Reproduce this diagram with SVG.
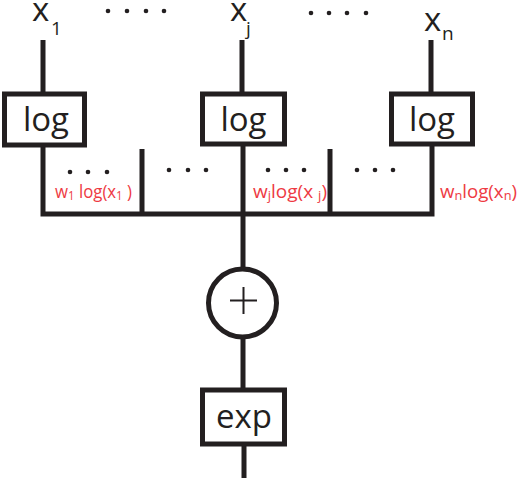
<svg xmlns="http://www.w3.org/2000/svg" width="518" height="478" viewBox="0 0 518 478">
<style>
.ln{stroke:#231f20;stroke-width:5;fill:none}
.bx{stroke:#231f20;stroke-width:5;fill:#fff}
.t{font-family:"Open Sans","Liberation Sans",sans-serif;fill:#231f20}
.big{font-size:33px}
.sub{font-size:19px}
.r{font-family:"Open Sans","Liberation Sans",sans-serif;fill:#ee3a43;font-size:19px}
.rs{font-size:13px}
.dot{fill:#231f20}
</style>
<g id="connectors">
<path class="ln" d="M43 40V94M242 40V94M431 40V94"/>
<path class="ln" d="M43 146V214H432V146M142 149V214M330 149V214M243 146V268M243 338V390M244 444V478"/>
</g>
<g id="dots">
<circle class="dot" cx="108" cy="11" r="2.3"/><circle class="dot" cx="127" cy="11" r="2.3"/><circle class="dot" cx="146" cy="11" r="2.3"/><circle class="dot" cx="164" cy="11" r="2.3"/>
<circle class="dot" cx="311" cy="13" r="2.3"/><circle class="dot" cx="329" cy="13" r="2.3"/><circle class="dot" cx="347" cy="13" r="2.3"/><circle class="dot" cx="366" cy="13" r="2.3"/>
<circle class="dot" cx="70" cy="172" r="2.3"/><circle class="dot" cx="88" cy="172" r="2.3"/><circle class="dot" cx="107" cy="172" r="2.3"/>
<circle class="dot" cx="169" cy="170" r="2.3"/><circle class="dot" cx="188" cy="170" r="2.3"/><circle class="dot" cx="206" cy="170" r="2.3"/>
<circle class="dot" cx="268" cy="170" r="2.3"/><circle class="dot" cx="286" cy="170" r="2.3"/><circle class="dot" cx="304" cy="170" r="2.3"/>
<circle class="dot" cx="357" cy="170" r="2.3"/><circle class="dot" cx="375" cy="170" r="2.3"/><circle class="dot" cx="393" cy="170" r="2.3"/>
</g>
<g id="x1"><text class="t big" x="32" y="21">x</text><text class="t sub" x="51" y="35">1</text></g>
<g id="xj"><text class="t big" x="230" y="21">x</text><text class="t sub" x="246" y="35">j</text></g>
<g id="xn"><text class="t big" x="424" y="31">x</text><text class="t sub" x="442" y="40">n</text></g>
<g id="log1"><rect class="bx" x="4.5" y="94" width="80" height="51"/><text class="t big" x="46" y="131" text-anchor="middle">log</text></g>
<g id="logj"><rect class="bx" x="202.5" y="94" width="82" height="50"/><text class="t big" x="243.5" y="131" text-anchor="middle">log</text></g>
<g id="logn"><rect class="bx" x="391.5" y="94" width="81" height="50"/><text class="t big" x="432" y="131" text-anchor="middle">log</text></g>
<g id="w1"><text class="r" x="55" y="198" textLength="77" lengthAdjust="spacingAndGlyphs">w<tspan class="rs" dy="2">1</tspan><tspan dy="-2"> log(x</tspan><tspan class="rs" dy="2">1</tspan><tspan dy="-2"> )</tspan></text></g>
<g id="wj"><text class="r" x="253" y="198" textLength="74" lengthAdjust="spacingAndGlyphs">w<tspan class="rs" dy="2">j</tspan><tspan dy="-2">log(x </tspan><tspan class="rs" dy="2">j</tspan><tspan dy="-2">)</tspan></text></g>
<g id="wn"><text class="r" x="440" y="198" textLength="77" lengthAdjust="spacingAndGlyphs">w<tspan class="rs" dy="2">n</tspan><tspan dy="-2">log(x</tspan><tspan class="rs" dy="2">n</tspan><tspan dy="-2">)</tspan></text></g>
<g id="sum"><circle class="bx" cx="242.5" cy="303" r="34"/><path d="M230 300.5H257M243.5 287V314" stroke="#231f20" stroke-width="2" fill="none"/></g>
<g id="exp"><rect class="bx" x="202.5" y="390" width="82" height="54"/><text class="t big" x="244" y="428" text-anchor="middle">exp</text></g>
</svg>
